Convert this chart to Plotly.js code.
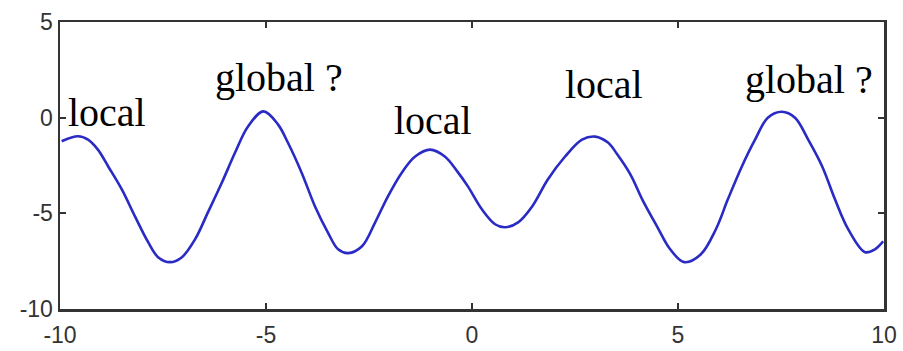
<!DOCTYPE html>
<html>
<head>
<meta charset="utf-8">
<script src="https://cdn.plot.ly/plotly-3.0.1.min.js"></script>
<style>
html,body{margin:0;padding:0;background:#fff;}
#chart{width:903px;height:351px;}
</style>
</head>
<body>
<div id="chart"></div>
<script>
// Curve samples
const xValues = [-9.96,-9.56,-9.32,-9.08,-8.83,-8.50,-8.18,-7.86,-7.62,-7.33,-7.04,-6.72,-6.41,-6.07,-5.75,-5.44,-5.06,-4.71,-4.47,-4.13,-3.81,-3.50,-3.25,-3.01,-2.67,-2.35,-2.04,-1.70,-1.38,-1.02,-0.66,-0.34,-0.10,0.24,0.56,0.80,1.12,1.46,1.84,2.26,2.67,2.99,3.30,3.52,3.84,4.15,4.49,4.81,5.15,5.55,5.92,6.21,6.55,6.87,7.18,7.52,7.84,8.16,8.50,8.81,9.13,9.54,9.78,9.98];
const yValues = [-1.23,-0.97,-1.15,-1.67,-2.55,-3.75,-5.16,-6.51,-7.29,-7.55,-7.29,-6.35,-4.95,-3.39,-1.82,-0.47,0.33,-0.35,-1.30,-2.90,-4.64,-5.99,-6.88,-7.08,-6.72,-5.47,-4.11,-2.86,-2.03,-1.67,-2.03,-2.86,-3.59,-4.79,-5.57,-5.73,-5.47,-4.64,-3.23,-2.03,-1.15,-0.99,-1.30,-1.90,-2.95,-4.35,-5.68,-6.88,-7.55,-7.15,-5.83,-4.27,-2.55,-1.15,0.00,0.31,0.00,-1.15,-2.55,-4.27,-5.83,-7.03,-6.88,-6.46];

// Axis ticks
const xTicks = [-10,-5,0,5,10];
const yTicks = [-10,-5,0,5];

// Text labels on the chart
const labelText = ["local","global ?","local","local","global ?"];
const labelX = [-8.86,-4.68,-0.95,3.20,8.18];
const labelY = [0.26,2.08,-0.16,1.72,1.98];

const annotations = labelText.map((t,i)=>({
  x: labelX[i], y: labelY[i], xref:'x', yref:'y', text:t, showarrow:false,
  xanchor:'center', yanchor:'middle',
  font:{family:'"Liberation Serif", "Times New Roman", serif', size:40, color:'#000'}
}));

const axisCommon = {
  showline:true, linecolor:'#333', linewidth:2.5, mirror:'ticks',
  ticks:'inside', ticklen:6, tickwidth:2, tickcolor:'#333',
  showgrid:false, zeroline:false,
  tickfont:{family:'"Liberation Sans", Arial, sans-serif', size:23, color:'#333'}
};

const trace = {
  x: xValues, y: yValues, type:'scatter', mode:'lines',
  line:{color:'#2a2ac4', width:2.6, shape:'spline', smoothing:1},
  hoverinfo:'none'
};

const layout = {
  width:903, height:351,
  margin:{l:60, r:19, t:22, b:42},
  paper_bgcolor:'#fff', plot_bgcolor:'#fff',
  showlegend:false,
  xaxis: Object.assign({}, axisCommon, {range:[-10,10], tickvals:xTicks, ticktext:xTicks.map(String), ticklabelstandoff:4}),
  yaxis: Object.assign({}, axisCommon, {range:[-10,5], tickvals:yTicks, ticktext:yTicks.map(String)}),
  annotations: annotations
};

Plotly.newPlot('chart', [trace], layout, {staticPlot:true, displayModeBar:false});
</script>
</body>
</html>
